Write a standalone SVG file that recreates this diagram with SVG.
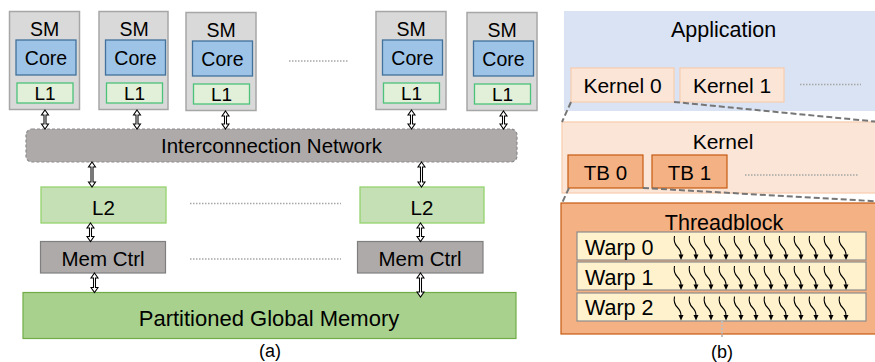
<svg xmlns="http://www.w3.org/2000/svg" xmlns:xlink="http://www.w3.org/1999/xlink" width="875" height="362" viewBox="0 0 875 362">
  <style>
    text { font-family: "Liberation Sans", Arial, sans-serif; fill: #000; }
    .c { text-anchor: middle; }
    .sm { fill: #d9d9d9; stroke: #a6a6a6; stroke-width: 1.5; }
    .core { fill: #9dc3e6; stroke: #41719c; stroke-width: 1.3; }
    .l1 { fill: #e2f0d9; stroke: #4cc27a; stroke-width: 1.3; }
    .net { fill: #aeaaaa; stroke: #8a8a8a; stroke-width: 1.2; stroke-dasharray: 3 2; }
    .l2 { fill: #c5e0b4; stroke: #94d36e; stroke-width: 1.3; }
    .mc { fill: #aeaaaa; stroke: #7f7f7f; stroke-width: 1.2; }
    .gm { fill: #a9d18e; stroke: #70ad47; stroke-width: 1.2; }
    .dots { stroke: #a6a6a6; stroke-width: 1.5; stroke-dasharray: 1.5 1.5; fill: none; }
    .arr { fill: #fff; stroke: #000; stroke-width: 1.05; stroke-linejoin: miter; }
    .app { fill: #dae3f3; }
    .kern { fill: #fbe5d6; stroke: #f8cbad; stroke-width: 1.2; }
    .tb { fill: #f4b183; stroke: #c55a11; stroke-width: 1.2; }
    .warp { fill: #fff2cc; stroke: #8c8c8c; stroke-width: 1.2; }
    .zoomline { stroke: #767676; stroke-width: 2; stroke-dasharray: 6 3; fill: none; }
  </style>
  <defs>
    <!-- one thread: wavy stroke ending in a filled arrowhead -->
    <g id="thread">
      <path d="M0,0 C-1,5 0,8 3,11 C6,14 6.5,16 6.5,19" fill="none" stroke="#000" stroke-width="1.1"/>
      <polygon points="4,18.5 9,18.5 6.5,24" fill="#000"/>
    </g>
    <g id="threadRow">
      <use xlink:href="#thread" x="0"/>
      <use xlink:href="#thread" x="15"/>
      <use xlink:href="#thread" x="30"/>
      <use xlink:href="#thread" x="45"/>
      <use xlink:href="#thread" x="60"/>
      <use xlink:href="#thread" x="75"/>
      <use xlink:href="#thread" x="90"/>
      <use xlink:href="#thread" x="105"/>
      <use xlink:href="#thread" x="120"/>
      <use xlink:href="#thread" x="135"/>
      <use xlink:href="#thread" x="150"/>
      <use xlink:href="#thread" x="165"/>
    </g>
  </defs>

  <!-- (a) GPU hardware -->
  <g id="sm1" transform="translate(9.5,11.5)">
    <rect class="sm" x="0" y="0" width="70" height="98"/>
    <text class="c" x="35" y="24.5" font-size="19.5">SM</text>
    <rect class="core" x="6.5" y="28.5" width="60" height="35"/>
    <text class="c" x="36.5" y="53.5" font-size="19.5">Core</text>
    <rect class="l1" x="7.5" y="71.5" width="56" height="20"/>
    <text class="c" x="35.5" y="88.5" font-size="19">L1</text>
  </g>
  <g id="sm2" transform="translate(99,11.5)">
    <rect class="sm" x="0" y="0" width="69" height="98"/>
    <text class="c" x="35" y="24.5" font-size="19.5">SM</text>
    <rect class="core" x="6.5" y="28.5" width="60" height="35"/>
    <text class="c" x="36.5" y="53.5" font-size="19.5">Core</text>
    <rect class="l1" x="7.5" y="71.5" width="56" height="20"/>
    <text class="c" x="35.5" y="88.5" font-size="19">L1</text>
  </g>
  <g id="sm3" transform="translate(186,12.5)">
    <rect class="sm" x="0" y="0" width="70" height="98"/>
    <text class="c" x="35" y="24.5" font-size="19.5">SM</text>
    <rect class="core" x="6.5" y="28.5" width="60" height="35"/>
    <text class="c" x="36.5" y="53.5" font-size="19.5">Core</text>
    <rect class="l1" x="7.5" y="71.5" width="56" height="20"/>
    <text class="c" x="35.5" y="88.5" font-size="19">L1</text>
  </g>
  <g id="sm4" transform="translate(376,11.5)">
    <rect class="sm" x="0" y="0" width="70" height="98"/>
    <text class="c" x="35" y="24.5" font-size="19.5">SM</text>
    <rect class="core" x="6.5" y="28.5" width="60" height="35"/>
    <text class="c" x="36.5" y="53.5" font-size="19.5">Core</text>
    <rect class="l1" x="7.5" y="71.5" width="56" height="20"/>
    <text class="c" x="35.5" y="88.5" font-size="19">L1</text>
  </g>
  <g id="sm5" transform="translate(467,12.5)">
    <rect class="sm" x="0" y="0" width="70" height="98"/>
    <text class="c" x="35" y="24.5" font-size="19.5">SM</text>
    <rect class="core" x="6.5" y="28.5" width="60" height="35"/>
    <text class="c" x="36.5" y="53.5" font-size="19.5">Core</text>
    <rect class="l1" x="7.5" y="71.5" width="56" height="20"/>
    <text class="c" x="35.5" y="88.5" font-size="19">L1</text>
  </g>

  <g id="network">
    <rect class="net" x="26" y="129" width="491" height="33" rx="6"/>
    <text class="c" x="271.5" y="153" font-size="20.5" fill="#222">Interconnection Network</text>
  </g>

  <g id="l2a">
    <rect class="l2" x="41" y="187" width="125" height="36"/>
    <text class="c" x="103.5" y="214.5" font-size="20.5">L2</text>
  </g>
  <g id="l2b">
    <rect class="l2" x="360" y="187" width="124" height="36"/>
    <text class="c" x="422" y="214.5" font-size="20.5">L2</text>
  </g>

  <g id="memctrl-a">
    <rect class="mc" x="40.5" y="241.5" width="125" height="31.5"/>
    <text class="c" x="103" y="266" font-size="20.5">Mem Ctrl</text>
  </g>
  <g id="memctrl-b">
    <rect class="mc" x="357.5" y="241.5" width="125.5" height="31.5"/>
    <text class="c" x="420" y="266" font-size="20.5">Mem Ctrl</text>
  </g>

  <g id="global-memory">
    <rect class="gm" x="23" y="292.5" width="493" height="46"/>
    <text class="c" x="269" y="325.5" font-size="22">Partitioned Global Memory</text>
  </g>

  <g id="ellipses-a">
    <line class="dots" x1="289" y1="61" x2="349" y2="61"/>
    <line class="dots" x1="190" y1="203.5" x2="341" y2="203.5"/>
    <line class="dots" x1="190" y1="259" x2="341" y2="259"/>
  </g>

  <g id="connectors">
    <!-- SM to interconnection network -->
    <path class="arr" d="M45,110 L48.5,115 L46,115 L46,124 L48.5,124 L45,129 L41.5,124 L44,124 L44,115 L41.5,115 Z"/>
    <path class="arr" d="M137,110 L140.5,115 L138,115 L138,124 L140.5,124 L137,129 L133.5,124 L136,124 L136,115 L133.5,115 Z"/>
    <path class="arr" d="M225.5,111 L229,116 L226.5,116 L226.5,124 L229,124 L225.5,129 L222,124 L224.5,124 L224.5,116 L222,116 Z"/>
    <path class="arr" d="M411.5,110 L415,115 L412.5,115 L412.5,124 L415,124 L411.5,129 L408,124 L410.5,124 L410.5,115 L408,115 Z"/>
    <path class="arr" d="M503.5,111 L507,116 L504.5,116 L504.5,124 L507,124 L503.5,129 L500,124 L502.5,124 L502.5,116 L500,116 Z"/>
    <!-- network to L2 -->
    <path class="arr" d="M92,162 L95.5,167 L93,167 L93,182 L95.5,182 L92,187 L88.5,182 L91,182 L91,167 L88.5,167 Z"/>
    <path class="arr" d="M421.5,162 L425,167 L422.5,167 L422.5,182 L425,182 L421.5,187 L418,182 L420.5,182 L420.5,167 L418,167 Z"/>
    <!-- L2 to memory controllers -->
    <path class="arr" d="M90.5,223 L94,228 L91.5,228 L91.5,236.5 L94,236.5 L90.5,241.5 L87,236.5 L89.5,236.5 L89.5,228 L87,228 Z"/>
    <path class="arr" d="M420.5,223 L424,228 L421.5,228 L421.5,236.5 L424,236.5 L420.5,241.5 L417,236.5 L419.5,236.5 L419.5,228 L417,228 Z"/>
    <!-- memory controllers to global memory -->
    <path class="arr" d="M94.5,273 L98,278 L95.5,278 L95.5,287.5 L98,287.5 L94.5,292.5 L91,287.5 L93.5,287.5 L93.5,278 L91,278 Z"/>
    <path class="arr" d="M420.5,273 L424,278 L421.5,278 L421.5,292 L424,292 L420.5,297 L417,292 L419.5,292 L419.5,278 L417,278 Z"/>
  </g>

  <text class="c" x="270" y="357" font-size="18">(a)</text>

  <!-- (b) software hierarchy -->
  <g id="application">
    <rect class="app" x="564" y="11" width="320" height="100"/>
    <text class="c" x="723.5" y="37" font-size="21.5">Application</text>
  </g>
  <g id="kernel0">
    <rect class="kern" x="571" y="68" width="103" height="34"/>
    <text class="c" x="622.5" y="93" font-size="21">Kernel 0</text>
  </g>
  <g id="kernel1">
    <rect class="kern" x="680" y="68" width="104" height="34"/>
    <text class="c" x="732" y="93" font-size="21">Kernel 1</text>
  </g>
  <line class="dots" x1="800" y1="84.5" x2="861" y2="84.5"/>

  <g id="kernel">
    <rect class="kern" x="562" y="122" width="320" height="71"/>
    <text class="c" x="723" y="148.5" font-size="21">Kernel</text>
  </g>
  <g id="tb0">
    <rect class="tb" x="568" y="155" width="75" height="33"/>
    <text class="c" x="605.5" y="180" font-size="20.5">TB 0</text>
  </g>
  <g id="tb1">
    <rect class="tb" x="652" y="155" width="75" height="33"/>
    <text class="c" x="689.5" y="180" font-size="20.5">TB 1</text>
  </g>
  <line class="dots" x1="745" y1="175" x2="858" y2="175"/>

  <g id="threadblock">
    <rect class="tb" x="561" y="203" width="320" height="131"/>
    <text class="c" x="724" y="230" font-size="21.5">Threadblock</text>
  </g>
  <g id="warp0">
    <rect class="warp" x="577" y="232" width="289" height="28"/>
    <text x="585" y="255" font-size="21.5">Warp 0</text>
    <use xlink:href="#threadRow" x="674.5" y="236"/>
  </g>
  <g id="warp1">
    <rect class="warp" x="577" y="262" width="289" height="28"/>
    <text x="585" y="285" font-size="21.5">Warp 1</text>
    <use xlink:href="#threadRow" x="674.5" y="266"/>
  </g>
  <g id="warp2">
    <rect class="warp" x="577" y="293" width="289" height="28"/>
    <text x="585" y="315" font-size="21.5">Warp 2</text>
    <use xlink:href="#threadRow" x="674.5" y="296.5"/>
  </g>
  <line x1="722" y1="321" x2="722" y2="337" stroke="#bfbfbf" stroke-width="2" stroke-dasharray="2 1.5"/>

  <g id="zoom-lines">
    <line class="zoomline" x1="571" y1="102" x2="562" y2="122"/>
    <line class="zoomline" x1="674" y1="102" x2="880" y2="122"/>
    <line class="zoomline" x1="569" y1="188" x2="562" y2="203"/>
    <line class="zoomline" x1="643" y1="188" x2="880" y2="201.5"/>
  </g>

  <text class="c" x="722" y="358" font-size="18">(b)</text>
</svg>
